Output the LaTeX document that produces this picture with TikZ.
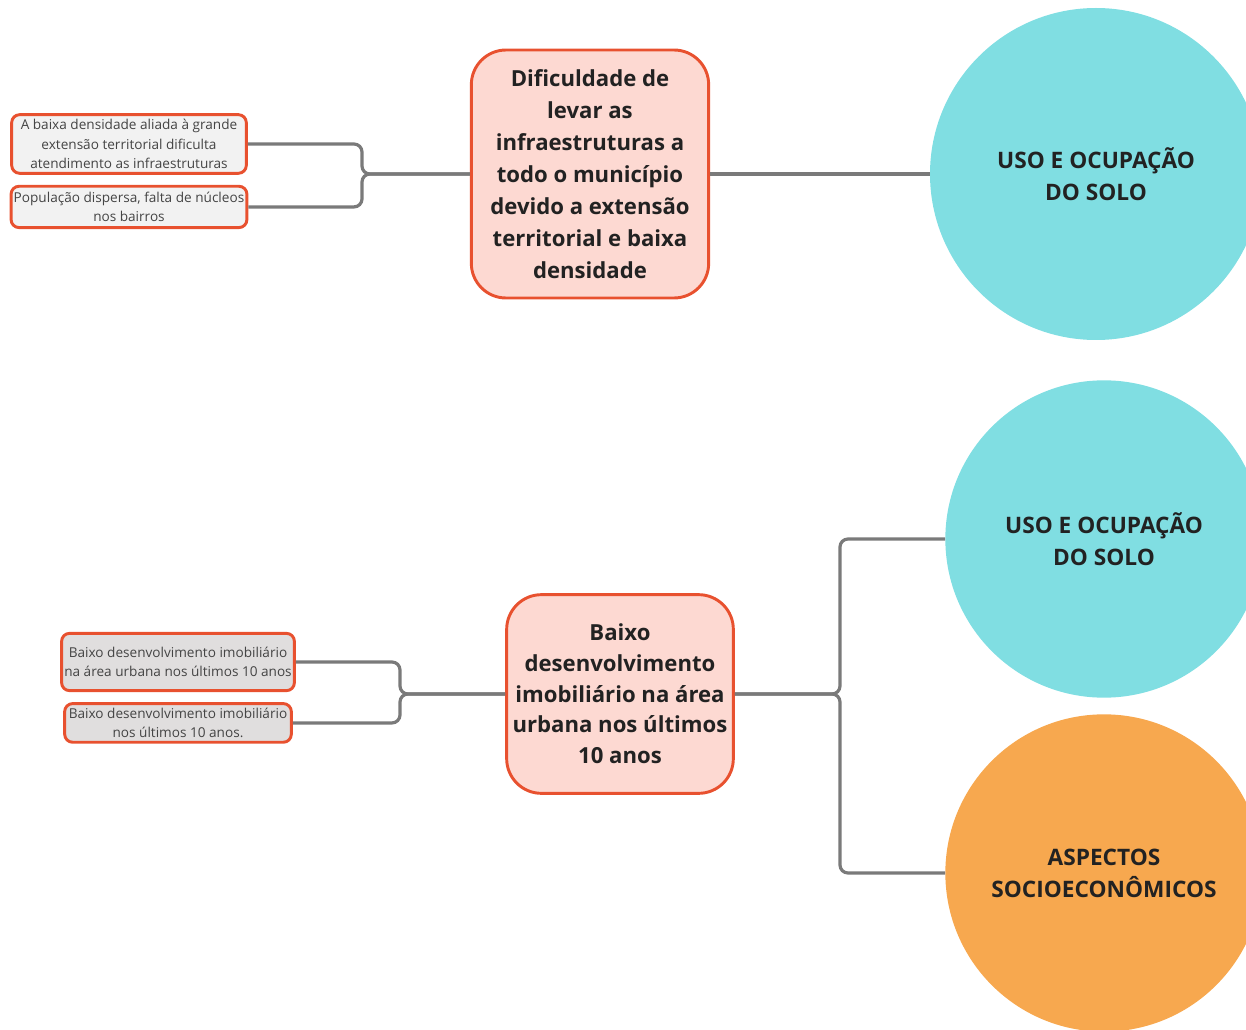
\documentclass[tikz,border=0pt]{standalone}
\usepackage{fontspec}
\setmainfont{Open Sans}
\usepackage{xcolor}
\usetikzlibrary{positioning}
\definecolor{boxred}{HTML}{E8512F}
\definecolor{topicpink}{HTML}{FDD9D2}
\definecolor{leaflight}{HTML}{F2F2F2}
\definecolor{leafdark}{HTML}{E0DEDE}
\definecolor{themecyan}{HTML}{80DEE2}
\definecolor{themeorange}{HTML}{F7A84F}
\definecolor{linkgray}{HTML}{7A7A7A}
\definecolor{inkdark}{HTML}{222222}
\definecolor{inkgray}{HTML}{444444}

\begin{document}
\begin{tikzpicture}[x=0.75pt,y=-0.75pt,
  node distance=7.5pt,
  leaf/.style={draw=boxred,line width=2.2pt,rounded corners=6pt,align=center,text=inkgray,
    inner sep=2pt,font=\fontsize{10.2}{14.6}\selectfont},
  topic/.style={draw=boxred,line width=2.2pt,rounded corners=26pt,fill=topicpink,align=center,
    text=inkdark,font=\fontsize{16.6}{24}\selectfont\bfseries},
  theme/.style={circle,align=center,text=inkdark,font=\fontsize{17}{24}\selectfont\bfseries},
  link/.style={draw=linkgray,line width=2.4pt,rounded corners=6pt}]
  \useasboundingbox (0,0) rectangle (1246,1030);
  \clip (0,0) rectangle (1246,1030);

  % upper branch
  \node[topic,minimum width=178pt,minimum height=186pt] (dific) at (590,174)
    {Dificuldade de\\levar as\\infraestruturas a\\todo o município\\devido a extensão\\territorial e baixa\\densidade};
  \node[theme,fill=themecyan,minimum size=249pt] (uso1) at (1096,174) {USO E OCUPAÇÃO\\DO SOLO};
  \node[leaf,fill=leaflight,minimum width=176pt,minimum height=44pt] (densid) at (129,144)
    {A baixa densidade aliada à grande\\extensão territorial dificulta\\atendimento as infraestruturas};
  \node[leaf,fill=leaflight,minimum width=176pt,minimum height=31pt,below=of densid] (popul)
    {População dispersa, falta de núcleos\\nos bairros};

  % lower branch
  \node[topic,minimum width=170pt,minimum height=149pt,font=\fontsize{16.6}{23}\selectfont\bfseries] (baixo) at (620,694)
    {Baixo\\desenvolvimento\\imobiliário na área\\urbana nos últimos\\10 anos};
  \node[theme,fill=themecyan,minimum size=238pt] (uso2) at (1104,539) {USO E OCUPAÇÃO\\DO SOLO};
  \node[theme,fill=themeorange,minimum size=238pt] (socio) at (1104,873) {ASPECTOS\\SOCIOECONÔMICOS};
  \node[leaf,fill=leafdark,minimum width=170pt,minimum height=43pt] (imobA) at (178,662)
    {Baixo desenvolvimento imobiliário\\na área urbana nos últimos 10 anos};
  \node[leaf,fill=leafdark,minimum width=170pt,minimum height=29pt,below=of imobA] (imobB)
    {Baixo desenvolvimento imobiliário\\nos últimos 10 anos.};

  % connectors
  \coordinate (joinA) at (362,174);
  \coordinate (joinB) at (400,694);
  \coordinate (joinC) at (840,694);
  \draw[link] (densid.east) -| (joinA) -- (dific.west);
  \draw[link] (popul.east) -| (joinA) -- (dific.west);
  \draw[link] (dific.east) -- (uso1.west);
  \draw[link] (imobA.east) -| (joinB) -- (baixo.west);
  \draw[link] (imobB.east) -| (joinB) -- (baixo.west);
  \draw[link] (baixo.east) -- (joinC) |- (uso2.west);
  \draw[link] (baixo.east) -- (joinC) |- (socio.west);
\end{tikzpicture}
\end{document}
